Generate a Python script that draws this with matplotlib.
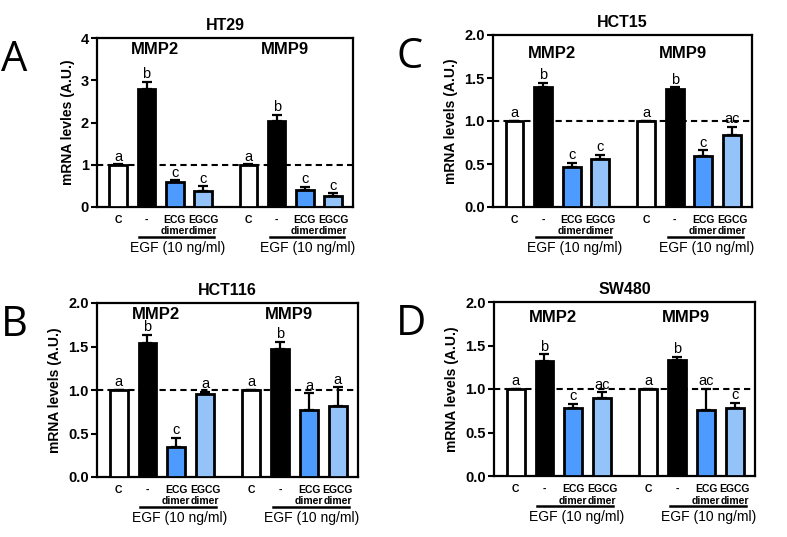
import matplotlib
matplotlib.use("Agg")
import matplotlib.pyplot as plt
import numpy as np

plt.rcParams['font.family'] = ['Liberation Sans', 'DejaVu Sans']

# ---- data ----
categories = ["C", "-", "ECG\ndimer", "EGCG\ndimer"]
genes = ["MMP2", "MMP9"]

ht29_vals = [1.0, 2.80, 0.58, 0.38, 1.0, 2.04, 0.40, 0.25]
ht29_errs = [0.01, 0.17, 0.05, 0.11, 0.01, 0.14, 0.07, 0.07]
ht29_sig = ["a", "b", "c", "c", "a", "b", "c", "c"]

hct15_vals = [1.0, 1.39, 0.47, 0.56, 1.0, 1.37, 0.59, 0.84]
hct15_errs = [0.005, 0.05, 0.04, 0.05, 0.005, 0.02, 0.07, 0.09]
hct15_sig = ["a", "b", "c", "c", "a", "b", "c", "ac"]

hct116_vals = [1.0, 1.54, 0.35, 0.95, 1.0, 1.47, 0.77, 0.82]
hct116_errs = [0.005, 0.09, 0.10, 0.03, 0.005, 0.08, 0.19, 0.21]
hct116_sig = ["a", "b", "c", "a", "a", "b", "a", "a"]

sw480_vals = [1.0, 1.32, 0.78, 0.90, 1.0, 1.33, 0.76, 0.78]
sw480_errs = [0.005, 0.08, 0.05, 0.06, 0.005, 0.04, 0.24, 0.06]
sw480_sig = ["a", "b", "c", "ac", "a", "b", "ac", "c"]

colors = ["white", "black", "#4d9bff", "#94c3fa"]

panels = [
    # letter, title, vals, errs, sig, ymax, ticks, ylabel, rect(px), gene-label y
    ("A", "HT29", ht29_vals, ht29_errs, ht29_sig, 4, [0, 1, 2, 3, 4], "mRNA levles (A.U.)", (97, 353, 38, 207), 0.93),
    ("C", "HCT15", hct15_vals, hct15_errs, hct15_sig, 2, [0.0, 0.5, 1.0, 1.5, 2.0], "mRNA levels (A.U.)", (493, 752, 35, 207), 0.895),
    ("B", "HCT116", hct116_vals, hct116_errs, hct116_sig, 2, [0.0, 0.5, 1.0, 1.5, 2.0], "mRNA levels (A.U.)", (97, 358, 303, 477), 0.935),
    ("D", "SW480", sw480_vals, sw480_errs, sw480_sig, 2, [0.0, 0.5, 1.0, 1.5, 2.0], "mRNA levels (A.U.)", (494, 755, 302, 476), 0.91),
]

W, H = 787, 537
DPI = 100
PT = 72.0 / DPI  # points per pixel

fig = plt.figure(figsize=(W / DPI, H / DPI), dpi=DPI)

group_start = [0.0, 4.6]
x = np.array([g + i for g in group_start for i in range(4)])

for letter, title, vals, errs, sig, ymax, ticks, ylabel, (l, r, t, b), gy in panels:
    ax = fig.add_axes([l / W, 1 - b / H, (r - l) / W, (b - t) / H])
    bar_colors = colors * 2
    ax.bar(x, vals, width=0.62, color=bar_colors, edgecolor="black", linewidth=2.0, zorder=3)
    ax.errorbar(x, vals, yerr=[np.zeros(len(vals)), errs], fmt="none", ecolor="black",
                elinewidth=1.6, capsize=3.6, capthick=1.6, zorder=2)
    ax.axhline(1.0, color="black", linestyle=(0, (3, 2)), linewidth=1.5, zorder=4)
    ax.set_xlim(-0.75, 8.3)
    ax.set_ylim(0, ymax)
    ax.set_yticks(ticks)
    if ymax == 4:
        ax.set_yticklabels([str(v) for v in ticks])
    else:
        ax.set_yticklabels(["%.1f" % v for v in ticks])
    ax.set_xticks([])
    for s in ax.spines.values():
        s.set_linewidth(1.6)
    ax.tick_params(axis="y", direction="out", length=4, width=1.5, labelsize=10.5, pad=2)
    for lab in ax.get_yticklabels():
        lab.set_fontweight("bold")
    ax.set_ylabel(ylabel, fontsize=10, fontweight="bold", labelpad=4)
    ax.set_title(title, fontsize=11.5, fontweight="bold", pad=6)

    # significance letters
    for xi, v, e, s in zip(x, vals, errs, sig):
        ax.annotate(s, xy=(xi, v + e), xytext=(0, 0.5), textcoords="offset points",
                    ha="center", va="bottom", fontsize=10.5)

    # gene labels
    for g, name in zip(group_start, genes):
        ax.annotate(name, xy=(g + 1.3, gy), xycoords=("data", "axes fraction"),
                    ha="center", va="center", fontsize=12, fontweight="bold")

    # category labels under axis
    xt = ax.get_xaxis_transform()
    for g in group_start:
        for k, word in ((0, "C"), (1, "-"), (2, "ECG"), (3, "EGCG")):
            ax.annotate(word, xy=(g + k, 0), xycoords=xt, xytext=(0, -13 * PT),
                        textcoords="offset points", ha="center", va="center",
                        fontsize=7.5, fontweight="bold")
        for k in (2, 3):
            ax.annotate("dimer", xy=(g + k, 0), xycoords=xt, xytext=(0, -24.5 * PT),
                        textcoords="offset points", ha="center", va="center",
                        fontsize=7.5, fontweight="bold")
        # underline bar
        yline = -30.0 / (b - t)
        ax.plot([g + 0.75, g + 3.38], [yline, yline], transform=xt,
                color="black", linewidth=1.8, clip_on=False)
        ax.annotate("EGF (10 ng/ml)", xy=(g + 2.1, 0), xycoords=xt,
                    xytext=(0, -41 * PT), textcoords="offset points", ha="center", va="center",
                    fontsize=10)

    # panel letter
    fig.text((l - 83) / W, 1 - (t + 22) / H, letter, fontsize=30, ha="center", va="center",
             family=["Open Sans", "DejaVu Sans"])

fig.savefig("out.png", dpi=DPI)
